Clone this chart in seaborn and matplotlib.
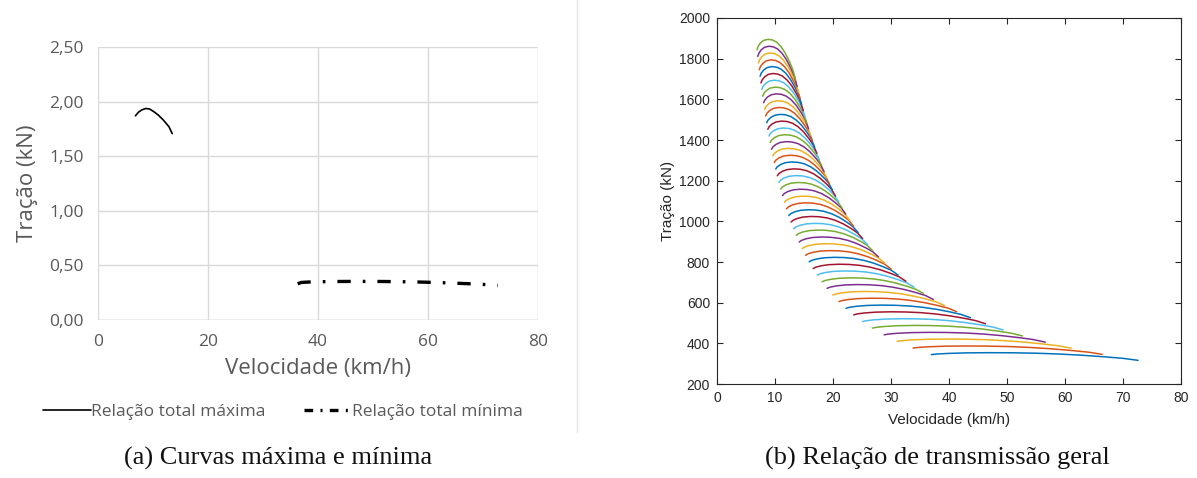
import numpy as np
import matplotlib
matplotlib.use("Agg")
import matplotlib.pyplot as plt
import seaborn as sns
from matplotlib.lines import Line2D

# ---------------- data ----------------
# Curve for the maximum total ratio (left panel), traction in kN
max_speed = [6.8, 7.4, 8.0, 8.7, 9.4, 10.2, 11.0, 11.9, 12.9, 13.5]
max_trac = [1.87, 1.905, 1.925, 1.937, 1.932, 1.906, 1.875, 1.83, 1.77, 1.707]

# Curve for the minimum total ratio (left panel) -- also base shape of the right-panel family
min_speed = [36.3, 37.0, 38.0, 40.0, 43.0, 47.0, 51.0, 55.0, 59.0, 63.0, 67.0, 70.0, 72.7]
min_trac = [332, 344, 347, 350, 352.5, 353.5, 353, 351, 347, 341, 333, 326, 316]

# Peak traction (kN) of each of the 47 transmission-ratio curves (right panel), bottom to top
peak_trac = [354, 387, 421, 454, 488, 521, 555, 588, 622, 655, 689, 722, 756, 789,
             823, 856, 890, 923, 957, 990, 1024, 1057, 1091, 1124, 1158, 1191, 1225,
             1258, 1292, 1325, 1359, 1392, 1426, 1459, 1493, 1526, 1560, 1593, 1627,
             1660, 1694, 1727, 1761, 1794, 1828, 1861, 1895]

left_yticks = [0.0, 0.5, 1.0, 1.5, 2.0, 2.5]
left_yticklabels = ["0,00", "0,50", "1,00", "1,50", "2,00", "2,50"]
left_xticks = [0, 20, 40, 60, 80]
right_xticks = list(range(0, 90, 10))
right_yticks = list(range(200, 2200, 200))

matlab_colors = ["#0072BD", "#D95319", "#EDB120", "#7E2F8E", "#77AC30", "#4DBEEE", "#A2142F"]

# ---------------- figure ----------------
sns.set_theme(style="white")
plt.rcParams['font.family'] = ['Open Sans', 'DejaVu Sans']

W, H = 1197, 478
fig = plt.figure(figsize=(W / 100, H / 100), dpi=100)

def fr(x0, y0, x1, y1):
    return [x0 / W, 1 - y1 / H, (x1 - x0) / W, (y1 - y0) / H]

# ---- left panel (Excel style) ----
axL = fig.add_axes(fr(98, 47, 538, 320))
base_peak = max(min_trac)
sns.lineplot(x=max_speed, y=max_trac, ax=axL, color="black", lw=1.2,
             sort=False, estimator=None, label="Relação total máxima")
sns.lineplot(x=min_speed, y=[v / 1000 for v in min_trac], ax=axL, color="black", lw=2.4,
             sort=False, estimator=None, label="Relação total mínima",
             linestyle=(0, (4.0, 3.6, 0.8, 3.6)))
axL.set_xlim(0, 80)
axL.set_ylim(0, 2.5)
axL.set_xticks(left_xticks)
axL.set_yticks(left_yticks)
axL.set_yticklabels(left_yticklabels)
axL.grid(True, color="#d9d9d9", lw=1.0)
for s in axL.spines.values():
    s.set_visible(False)
axL.axhline(0, color="#bfbfbf", lw=1.0, zorder=0.5)
axL.tick_params(axis="both", length=0, labelsize=12.5, labelcolor="#595959", pad=10)
axL.set_xlabel("Velocidade (km/h)", fontsize=16, color="#595959", labelpad=6)
axL.set_ylabel("Tração (kN)", fontsize=16, color="#595959", labelpad=8)
leg = axL.legend(loc="upper center", bbox_to_anchor=(0.42, -0.25), ncol=2, frameon=False,
                 fontsize=12.5, handlelength=2.8, handletextpad=0.0, columnspacing=2.2,
                 labelcolor="#595959")
leg.get_lines()[1].set_linestyle((0, (2.6, 2.2, 0.6, 2.2)))

# ---- right panel (MATLAB style) ----
axR = fig.add_axes(fr(717, 18, 1181, 384))
for i, pk in enumerate(peak_trac):
    k = pk / base_peak
    xs = [v / k for v in min_speed[1:]]
    ys = [v * k for v in min_trac[1:]]
    sns.lineplot(x=xs, y=ys, ax=axR, color=matlab_colors[i % 7], lw=1.1,
                 sort=False, estimator=None)
axR.set_xlim(0, 80)
axR.set_ylim(200, 2000)
axR.set_xticks(right_xticks)
axR.set_yticks(right_yticks)
for s in axR.spines.values():
    s.set_visible(True)
    s.set_color("#262626")
    s.set_linewidth(0.8)
axR.tick_params(axis="both", direction="in", length=4, width=0.8, color="#262626",
                top=True, right=True, bottom=True, left=True,
                labelsize=10, labelcolor="#262626", pad=5)
for lab in axR.get_xticklabels() + axR.get_yticklabels():
    lab.set_family(['Liberation Sans', 'DejaVu Sans'])
axR.set_xlabel("Velocidade (km/h)", fontsize=11, color="#262626", labelpad=6,
               family=['Liberation Sans', 'DejaVu Sans'])
axR.set_ylabel("Tração (kN)", fontsize=11, color="#262626", labelpad=3,
               family=['Liberation Sans', 'DejaVu Sans'])

# ---- separator and captions ----
fig.add_artist(Line2D([577 / W, 577 / W], [1 - 432 / H, 1.0], color="#e3e3e3", lw=1.0))
cap_font = ['Liberation Serif', 'DejaVu Serif']
fig.text(278 / W, 1 - 458 / H, "(a) Curvas máxima e mínima", ha="center", va="center",
         fontsize=19, family=cap_font, color="#111111")
fig.text(937 / W, 1 - 458 / H, "(b) Relação de transmissão geral", ha="center", va="center",
         fontsize=19, family=cap_font, color="#111111")

fig.savefig("out.png", dpi=100, facecolor="white")
